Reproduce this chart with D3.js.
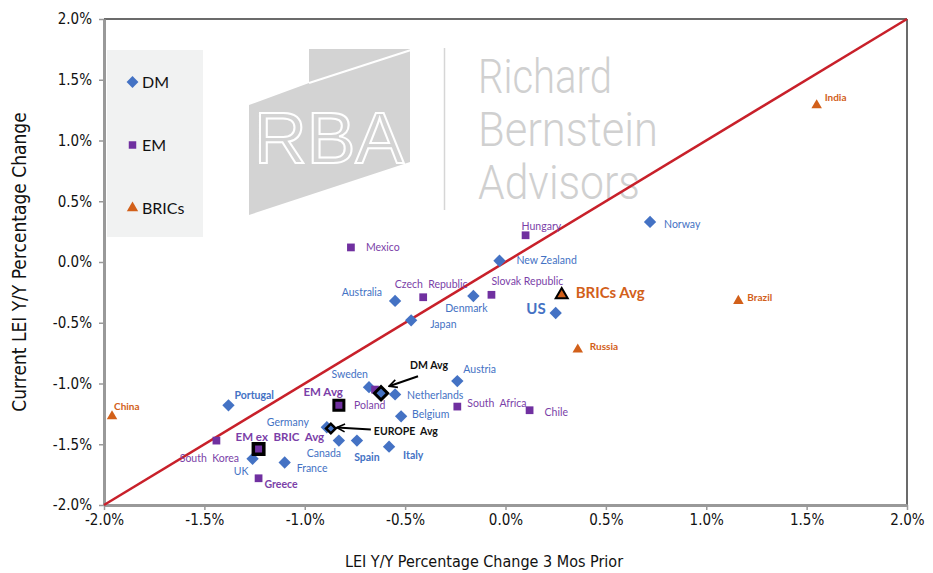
<!DOCTYPE html>
<html><head><meta charset="utf-8">
<script src="https://cdn.jsdelivr.net/npm/d3@7/dist/d3.min.js"></script>
<style>
body{margin:0;background:#fff;}
svg{display:block;}
</style></head>
<body>
<svg id="chart" width="933" height="573"></svg>
<script>
// ---------- DATA (percent values) ----------
const dmPoints = [
  {name:"Norway", x:0.72, y:0.33},
  {name:"New Zealand", x:-0.03, y:0.01},
  {name:"Australia", x:-0.55, y:-0.32},
  {name:"Denmark", x:-0.16, y:-0.28},
  {name:"Japan", x:-0.47, y:-0.48},
  {name:"US", x:0.25, y:-0.42},
  {name:"Austria", x:-0.24, y:-0.98},
  {name:"Sweden", x:-0.68, y:-1.03},
  {name:"Netherlands", x:-0.55, y:-1.09},
  {name:"Belgium", x:-0.52, y:-1.27},
  {name:"Portugal", x:-1.38, y:-1.18},
  {name:"Germany", x:-0.89, y:-1.36},
  {name:"Canada", x:-0.83, y:-1.47},
  {name:"Spain", x:-0.74, y:-1.47},
  {name:"Italy", x:-0.58, y:-1.52},
  {name:"UK", x:-1.26, y:-1.62},
  {name:"France", x:-1.10, y:-1.65}
];
const emPoints = [
  {name:"Mexico", x:-0.77, y:0.12},
  {name:"Hungary", x:0.10, y:0.22},
  {name:"Czech  Republic", x:-0.41, y:-0.29},
  {name:"Slovak Republic", x:-0.07, y:-0.27},
  {name:"Poland", x:-0.65, y:-1.05},
  {name:"South  Africa", x:-0.24, y:-1.19},
  {name:"Chile", x:0.12, y:-1.22},
  {name:"South  Korea", x:-1.44, y:-1.47},
  {name:"Greece", x:-1.23, y:-1.78}
];
const bricPoints = [
  {name:"India", x:1.55, y:1.29},
  {name:"Brazil", x:1.16, y:-0.32},
  {name:"Russia", x:0.36, y:-0.72},
  {name:"China", x:-1.96, y:-1.27}
];
const avgPoints = [
  {name:"DM Avg", group:"DM", x:-0.62, y:-1.08},
  {name:"EUROPE  Avg", group:"EU", x:-0.87, y:-1.37},
  {name:"EM Avg", group:"EM", x:-0.83, y:-1.18},
  {name:"EM ex  BRIC  Avg", group:"EMX", x:-1.23, y:-1.54},
  {name:"BRICs Avg", group:"BRIC", x:0.28, y:-0.27}
];
const tickValues = [-2.0,-1.5,-1.0,-0.5,0.0,0.5,1.0,1.5,2.0];
const legendItems = ["DM","EM","BRICs"];
const xTitle = "LEI Y/Y Percentage Change 3 Mos Prior";
const yTitle = "Current LEI Y/Y Percentage Change";

// ---------- STYLE / LAYOUT ----------
const C = {dm:"#4472C4", em:"#7030A0", bric:"#D2601A", emText:"#7B3FA8", bricText:"#D2601A", line:"#C8202A"};
const labelCfg = {
  "Norway":{dx:14,dy:2},
  "New Zealand":{dx:17,dy:0},
  "Australia":{dx:-13,dy:-9,a:"end"},
  "Denmark":{dx:-7,dy:12,a:"middle"},
  "Japan":{dx:19,dy:4},
  "US":{dx:-10,dy:-4,a:"end",b:1,s:15},
  "Austria":{dx:6,dy:-12},
  "Sweden":{dx:-1,dy:-13,a:"end"},
  "Netherlands":{dx:12,dy:1},
  "Belgium":{dx:11,dy:-2},
  "Portugal":{dx:6,dy:-10,b:1},
  "Germany":{dx:-18,dy:-5,a:"end"},
  "Canada":{dx:-15,dy:13,a:"middle"},
  "Spain":{dx:10,dy:17,a:"middle",b:1},
  "Italy":{dx:14,dy:9,b:1},
  "UK":{dx:-4,dy:12,a:"end"},
  "France":{dx:12,dy:6},
  "Mexico":{dx:15,dy:0},
  "Hungary":{dx:-4,dy:-9},
  "Czech  Republic":{dx:8,dy:-13,a:"middle"},
  "Slovak Republic":{dx:0,dy:-13},
  "Poland":{dx:-21,dy:16},
  "South  Africa":{dx:10,dy:-3},
  "Chile":{dx:15,dy:2},
  "South  Korea":{dx:-7,dy:18,a:"middle"},
  "Greece":{dx:6,dy:6,b:1},
  "India":{dx:8,dy:-8,b:1,s:10},
  "Brazil":{dx:9,dy:-3,b:1,s:10},
  "Russia":{dx:12,dy:-3,b:1,s:10},
  "China":{dx:2,dy:-10,b:1,s:10},
  "DM Avg":{dx:29,dy:-28,b:1,col:"#111"},
  "EUROPE  Avg":{dx:43,dy:3,b:1,col:"#111"},
  "EM Avg":{dx:4,dy:-13,a:"end",b:1,s:11.5},
  "EM ex  BRIC  Avg":{dx:-23,dy:-12,b:1,s:11.5},
  "BRICs Avg":{dx:14,dy:-2,b:1,s:15}
};
const labelFont = "Lato, 'Open Sans', sans-serif";
const narrowFont = "'Liberation Sans Narrow', 'Arial Narrow', 'DejaVu Sans Condensed', sans-serif";

const svg = d3.select("#chart");
const pL = 104, pR = 907, pT = 19, pB = 505;

const x = d3.scaleLinear().domain([-2,2]).range([pL,pR]);
const y = d3.scaleLinear().domain([-2,2]).range([pB,pT]);

// ---------- WATERMARK ----------
const wm = svg.append("g").attr("class","watermark");
wm.append("path")
  .attr("d","M309,49 L410,49 L410,162 L249,215 L249,105 L309,83 Z")
  .attr("fill","#d3d3d3");
wm.append("line").attr("x1",309).attr("y1",83).attr("x2",411).attr("y2",50)
  .attr("stroke","#fff").attr("stroke-width",2);
wm.append("text").attr("x",254).attr("y",163)
  .attr("font-family","'Liberation Sans', sans-serif").attr("font-size",72)
  .attr("font-weight",100).attr("fill","none").attr("stroke","#fff").attr("stroke-width",2)
  .attr("textLength",150).attr("lengthAdjust","spacingAndGlyphs")
  .text("RBA");
wm.append("line").attr("x1",444.5).attr("y1",48).attr("x2",444.5).attr("y2",210)
  .attr("stroke","#d6d6d6").attr("stroke-width",1.5);
const wmLines = ["Richard","Bernstein","Advisors"];
const wmW = [134,180,162];
wmLines.forEach((t,i)=>{
  wm.append("text").attr("x",478).attr("y",93+i*53)
    .attr("font-family","Roboto, 'Liberation Sans Narrow', sans-serif")
    .attr("font-weight",300).attr("font-size",48).attr("fill","#d0d0d0")
    .attr("textLength",wmW[i]).attr("lengthAdjust","spacingAndGlyphs")
    .text(t);
});

// ---------- AXES / FRAME ----------
svg.append("line").attr("x1",pL).attr("x2",pR).attr("y1",pT).attr("y2",pT)
  .attr("stroke","#6b6b6b").attr("stroke-width",2);
svg.append("line").attr("x1",pR).attr("x2",pR).attr("y1",pT).attr("y2",pB)
  .attr("stroke","#6b6b6b").attr("stroke-width",2);

const fmt = d => d.toFixed(1) + "%";
const xAxis = svg.append("g").attr("transform",`translate(0,${pB})`)
  .call(d3.axisBottom(x).tickValues(tickValues).tickFormat(fmt).tickSize(5).tickSizeOuter(0));
const yAxis = svg.append("g").attr("transform",`translate(${pL},0)`)
  .call(d3.axisLeft(y).tickValues(tickValues).tickFormat(fmt).tickSize(5).tickSizeOuter(0));
[xAxis,yAxis].forEach(g=>{
  g.select(".domain").attr("stroke","#999").attr("stroke-width",3);
  g.selectAll(".tick line").attr("stroke","#999").attr("stroke-width",1.5);
  g.selectAll(".tick text").attr("font-family",narrowFont).attr("font-size",15).attr("fill","#111");
});
xAxis.selectAll(".tick text").attr("dy","0.95em").attr("y",6);
yAxis.selectAll(".tick text").attr("x",-12);

svg.append("text").attr("x",484).attr("y",567).attr("text-anchor","middle")
  .attr("font-family",narrowFont).attr("font-size",16).attr("fill","#111").text(xTitle);
svg.append("text").attr("transform","translate(26,262) rotate(-90)").attr("text-anchor","middle")
  .attr("font-family",narrowFont).attr("font-size",19).attr("fill","#111").text(yTitle);

// ---------- 45 degree line ----------
svg.append("line").attr("x1",x(-2)).attr("y1",y(-2)).attr("x2",x(2)).attr("y2",y(2))
  .attr("stroke",C.line).attr("stroke-width",2.5);

// ---------- LEGEND ----------
const lg = svg.append("g");
lg.append("rect").attr("x",107).attr("y",50).attr("width",96).attr("height",187).attr("fill","#f1f2f2");
const legSym = [
  {col:C.dm, sym:d3.symbol().type(d3.symbolSquare).size(70)(), rot:45},
  {col:C.em, sym:d3.symbol().type(d3.symbolSquare).size(56)(), rot:0},
  {col:C.bric, sym:d3.symbol().type(d3.symbolTriangle).size(56)(), rot:0}
];
legendItems.forEach((t,i)=>{
  const yy = 82 + i*63;
  lg.append("path").attr("d",legSym[i].sym)
    .attr("transform",`translate(132.5,${yy}) rotate(${legSym[i].rot})`).attr("fill",legSym[i].col);
  lg.append("text").attr("x",142).attr("y",yy).attr("dy","0.36em")
    .attr("font-family",labelFont).attr("font-size",16).attr("fill","#111").text(t);
});

// ---------- POINTS ----------
const gPts = svg.append("g");
function drawSeries(data, col, symPath, rot){
  gPts.selectAll(null).data(data).enter().append("path")
    .attr("d",symPath)
    .attr("transform",d=>`translate(${x(d.x)},${y(d.y)}) rotate(${rot})`)
    .attr("fill",col);
}
drawSeries(dmPoints, C.dm, d3.symbol().type(d3.symbolSquare).size(76)(), 45);
drawSeries(emPoints, C.em, d3.symbol().type(d3.symbolSquare).size(60)(), 0);
drawSeries(bricPoints, C.bric, d3.symbol().type(d3.symbolTriangle).size(48)(), 0);

// averages
const avgStyle = {
  DM:{fill:C.dm, sym:d3.symbol().type(d3.symbolSquare).size(88)(), rot:45, sw:3},
  EU:{fill:C.dm, sym:d3.symbol().type(d3.symbolSquare).size(46)(), rot:45, sw:2.5},
  EM:{fill:C.em, sym:d3.symbol().type(d3.symbolSquare).size(100)(), rot:0, sw:3},
  EMX:{fill:C.em, sym:d3.symbol().type(d3.symbolSquare).size(110)(), rot:0, sw:3.5},
  BRIC:{fill:C.bric, sym:d3.symbol().type(d3.symbolTriangle).size(62)(), rot:0, sw:2}
};
gPts.selectAll(null).data(avgPoints).enter().append("path")
  .attr("d",d=>avgStyle[d.group].sym)
  .attr("transform",d=>`translate(${x(d.x)},${y(d.y)}) rotate(${avgStyle[d.group].rot})`)
  .attr("fill",d=>avgStyle[d.group].fill)
  .attr("stroke","#000").attr("stroke-width",d=>avgStyle[d.group].sw).attr("stroke-linejoin","miter");

// arrows
svg.append("defs").append("marker").attr("id","arr").attr("viewBox","0 0 10 10")
  .attr("refX",9).attr("refY",5).attr("markerWidth",5).attr("markerHeight",5)
  .attr("markerUnits","strokeWidth").attr("orient","auto")
  .append("path").attr("d","M1,1 L9,5 L1,9").attr("fill","none").attr("stroke","#000").attr("stroke-width",1.6);
const arrowCfg = {"DM Avg":[37,-17,8,-7], "EUROPE  Avg":[40,1,6,-1]};
avgPoints.filter(d=>arrowCfg[d.name]).forEach(d=>{
  const a = arrowCfg[d.name], px = x(d.x), py = y(d.y);
  svg.append("line").attr("x1",px+a[0]).attr("y1",py+a[1]).attr("x2",px+a[2]).attr("y2",py+a[3])
    .attr("stroke","#000").attr("stroke-width",2).attr("marker-end","url(#arr)");
});

// ---------- LABELS ----------
const gLab = svg.append("g").attr("font-family",labelFont);
function drawLabels(data, col){
  data.forEach(d=>{
    const c = labelCfg[d.name] || {dx:10,dy:0};
    gLab.append("text")
      .attr("x",x(d.x)+c.dx).attr("y",y(d.y)+c.dy).attr("dy","0.35em")
      .attr("text-anchor",c.a||"start")
      .attr("font-size",c.s||10.5).attr("font-weight",c.b?700:400)
      .attr("fill",c.col||col)
      .style("white-space","pre")
      .text(d.name);
  });
}
drawLabels(dmPoints, C.dm);
drawLabels(emPoints, C.emText);
drawLabels(bricPoints, C.bricText);
drawLabels(avgPoints.filter(d=>d.group==="DM"||d.group==="EU"), "#111");
drawLabels(avgPoints.filter(d=>d.group==="EM"||d.group==="EMX"), C.emText);
drawLabels(avgPoints.filter(d=>d.group==="BRIC"), C.bricText);
</script>
</body></html>
